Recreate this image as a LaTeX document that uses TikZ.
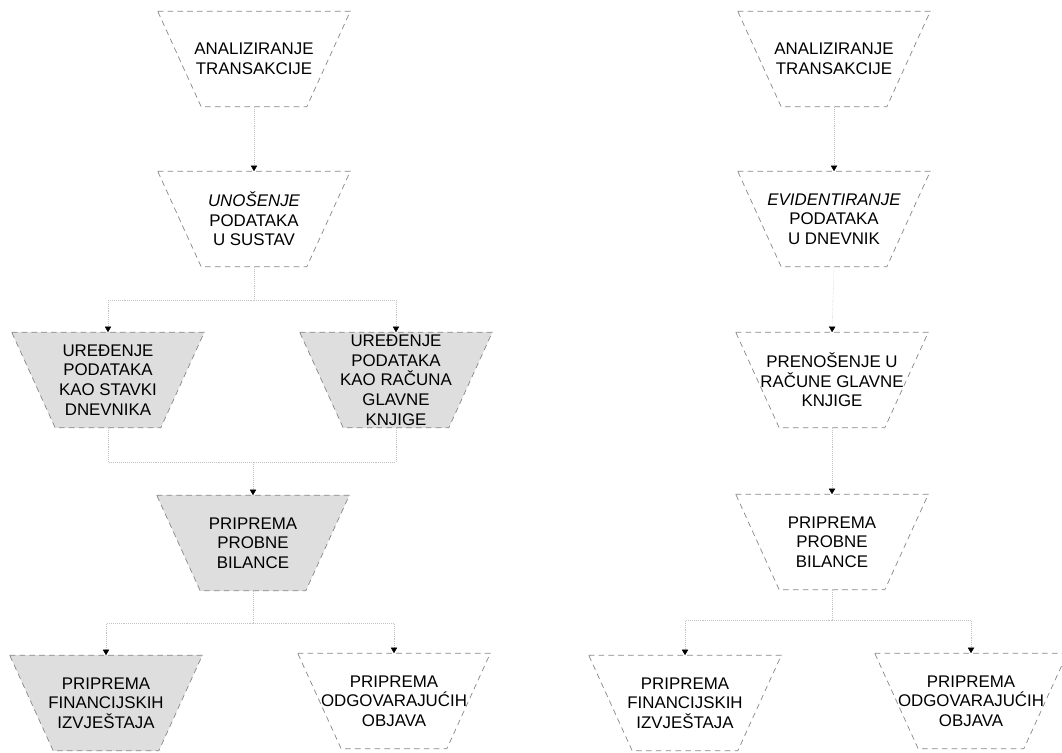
\documentclass[tikz,border=0pt]{standalone}
\usepackage{fontspec}
\setmainfont{Liberation Sans}
\definecolor{edgegray}{RGB}{135, 135, 135}
\definecolor{shadegray}{RGB}{222, 222, 222}
\definecolor{linkgray}{RGB}{195, 195, 195}
\usetikzlibrary{arrows.meta, positioning, backgrounds}
\tikzset{
  stepbox/.style={rectangle, inner sep=0pt, minimum width=4.8cm, minimum height=2.375cm, align=center, font=\fontsize{12}{14}\selectfont},
  trapline/.style={draw=edgegray, line width=0.5pt, dash pattern=on 4pt off 3pt},
  trapfill/.style={fill=shadegray},
  link/.style={draw=linkgray, line width=0.4pt, densely dotted, -{Triangle[width=4.5pt, length=4pt, color=black]}},
  plainlink/.style={draw=linkgray, line width=0.4pt, densely dotted},
}

\begin{document}
\begin{tikzpicture}[x=0.025cm, y=-0.025cm]
\useasboundingbox (0,0) rectangle (1062,753);

% Left column
\node[stepbox] (a1) at (254,59) {ANALIZIRANJE\\TRANSAKCIJE};
\node[stepbox] (a2) at (254,219) {\itshape UNOŠENJE\\PODATAKA\\U SUSTAV};
\node[stepbox] (a3) at (108,380) {UREĐENJE\\PODATAKA\\KAO STAVKI\\DNEVNIKA};
\node[stepbox] (a4) at (396,380) {UREĐENJE\\PODATAKA\\KAO RAČUNA\\GLAVNE\\KNJIGE};
\node[stepbox] (a5) at (253,543) {PRIPREMA\\PROBNE\\BILANCE};
\node[stepbox] (a6) at (106,703) {PRIPREMA\\FINANCIJSKIH\\IZVJEŠTAJA};
\node[stepbox] (a7) at (394,701) {PRIPREMA\\ODGOVARAJUĆIH\\OBJAVA};

% Right column
\node[stepbox] (b1) at (834,59) {ANALIZIRANJE\\TRANSAKCIJE};
\node[stepbox] (b2) at (834,219) {{\itshape EVIDENTIRANJE}\\PODATAKA\\U DNEVNIK};
\node[stepbox] (b3) at (832,380) {PRENOŠENJE U\\RAČUNE GLAVNE\\KNJIGE};
\node[stepbox] (b4) at (832,542) {PRIPREMA\\PROBNE\\BILANCE};
\node[stepbox] (b5) at (685,703) {PRIPREMA\\FINANCIJSKIH\\IZVJEŠTAJA};
\node[stepbox] (b6) at (971,701) {PRIPREMA\\ODGOVARAJUĆIH\\OBJAVA};

% Trapezoids behind the text
\begin{scope}[on background layer]
  \foreach \n in {a3,a4,a5,a6}
    \fill[trapfill] (\n.north west) -- (\n.north east) -- ([shift={(-43.5,0)}]\n.south east) -- ([shift={(43.5,0)}]\n.south west) -- cycle;
  \foreach \n in {a1,a2,a3,a4,a5,a6,a7,b1,b2,b3,b4,b5,b6}
    \draw[trapline] (\n.north west) -- (\n.north east) -- ([shift={(-43.5,0)}]\n.south east) -- ([shift={(43.5,0)}]\n.south west) -- cycle;
\end{scope}

% Left connectors
\coordinate (split1) at (254,300);
\coordinate (join1) at (253,462);
\coordinate (split2) at (253,623);
\draw[link] (a1.south) -- (a2.north);
\draw[plainlink] (a2.south) -- (split1);
\draw[link] (split1) -| (a3.north);
\draw[link] (split1) -| (a4.north);
\draw[plainlink] (a3.south) |- (join1);
\draw[plainlink] (a4.south) |- (join1);
\draw[link] (join1) -- (a5.north);
\draw[plainlink] (a5.south) -- (split2);
\draw[link] (split2) -| (a6.north);
\draw[link] (split2) -| (a7.north);

% Right connectors
\coordinate (split3) at (832,620);
\draw[link] (b1.south) -- (b2.north);
\draw[link] (b2.south) -- (b3.north);
\draw[link] (b3.south) -- (b4.north);
\draw[plainlink] (b4.south) -- (split3);
\draw[link] (split3) -| (b5.north);
\draw[link] (split3) -| (b6.north);
\end{tikzpicture}
\end{document}
